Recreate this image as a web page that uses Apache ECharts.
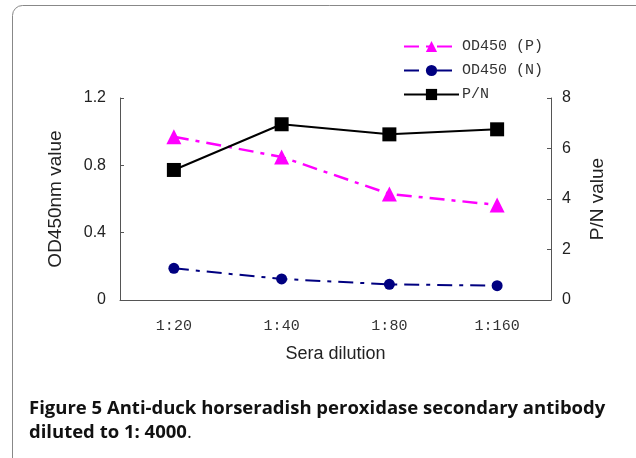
<!DOCTYPE html>
<html>
<head>
<meta charset="utf-8">
<script src="https://cdn.jsdelivr.net/npm/echarts@6/dist/echarts.min.js"></script>
<style>
  html, body { margin: 0; padding: 0; background: #fff; }
  #chart { width: 636px; height: 458px; }
</style>
</head>
<body>
<div id="chart"></div>
<script>
// values
const dilutions = ['1:20', '1:40', '1:80', '1:160']
const odPositive = [0.97, 0.85, 0.63, 0.565]
const odNegative = [0.188, 0.125, 0.093, 0.085]
const pnRatio = [5.15, 6.96, 6.56, 6.76]

const monoFont = '"Liberation Mono", "DejaVu Sans Mono", monospace'
const sansFont = '"Liberation Sans", Arial, sans-serif'
const captionFont = '"Open Sans", sans-serif'
const axisColor = '#555'

const chart = echarts.init(document.getElementById('chart'))

const option = {
  backgroundColor: '#fff',
  animation: false,
  grid: { left: 120, right: 85, top: 98, bottom: 158 },
  legend: {
    orient: 'vertical',
    left: 398,
    top: 34,
    itemWidth: 55,
    itemHeight: 14,
    itemGap: 9,
    textStyle: { fontFamily: monoFont, fontSize: 15, color: '#333', padding: [0, 0, 0, -2] },
    data: ['OD450 (P)', 'OD450 (N)', 'P/N']
  },
  xAxis: {
    type: 'category',
    data: dilutions,
    boundaryGap: true,
    name: 'Sera dilution',
    nameLocation: 'middle',
    nameGap: 45,
    nameTextStyle: { fontFamily: sansFont, fontSize: 18, color: '#222' },
    axisLine: { lineStyle: { color: axisColor, width: 1 } },
    axisTick: { inside: true, length: 4, lineStyle: { color: axisColor } },
    axisLabel: { fontFamily: monoFont, fontSize: 15, color: '#333', margin: 19 }
  },
  yAxis: [
    {
      type: 'value',
      min: 0,
      max: 1.2,
      interval: 0.4,
      name: 'OD450nm value',
      nameLocation: 'middle',
      nameRotate: 90,
      nameGap: 55,
      nameTextStyle: { fontFamily: sansFont, fontSize: 19, color: '#222' },
      axisLine: { show: true, lineStyle: { color: axisColor, width: 1 } },
      axisTick: { show: true, inside: true, length: 4, lineStyle: { color: axisColor } },
      axisLabel: { fontFamily: sansFont, fontSize: 16, color: '#222', margin: 14 },
      splitLine: { show: false }
    },
    {
      type: 'value',
      position: 'right',
      min: 0,
      max: 8,
      interval: 2,
      name: 'P/N value',
      nameLocation: 'middle',
      nameRotate: 90,
      nameGap: 37,
      nameTextStyle: { fontFamily: sansFont, fontSize: 19, color: '#222' },
      axisLine: { show: true, lineStyle: { color: axisColor, width: 1 } },
      axisTick: { show: true, inside: true, length: 4, lineStyle: { color: axisColor } },
      axisLabel: { fontFamily: sansFont, fontSize: 16, color: '#222', margin: 11 },
      splitLine: { show: false }
    }
  ],
  series: [
    {
      name: 'OD450 (P)',
      type: 'line',
      yAxisIndex: 0,
      data: odPositive,
      symbol: 'triangle',
      symbolSize: 15,
      itemStyle: { color: '#ff00ff' },
      lineStyle: { color: '#ff00ff', width: 2.5, type: [15, 7, 4, 7] }
    },
    {
      name: 'OD450 (N)',
      type: 'line',
      yAxisIndex: 0,
      data: odNegative,
      symbol: 'circle',
      symbolSize: 11,
      itemStyle: { color: '#000080' },
      lineStyle: { color: '#000080', width: 2, type: [15, 7, 4, 7] }
    },
    {
      name: 'P/N',
      type: 'line',
      yAxisIndex: 1,
      data: pnRatio,
      symbol: 'rect',
      symbolSize: 14,
      itemStyle: { color: '#000' },
      lineStyle: { color: '#000', width: 2 }
    }
  ],
  graphic: [
    {
      type: 'rect',
      shape: { x: 12.5, y: 5.5, width: 640, height: 480, r: 10 },
      style: { fill: 'none', stroke: '#888', lineWidth: 1 },
      silent: true
    },
    {
      type: 'text',
      left: 29,
      top: 397,
      style: {
        text: '{b|Figure 5 Anti-duck horseradish peroxidase secondary antibody}\n{b|diluted to 1: 4000}{n|.}',
        lineHeight: 24,
        rich: {
          b: { fontFamily: captionFont, fontWeight: 'bold', fontSize: 18.5, fill: '#111', lineHeight: 24 },
          n: { fontFamily: captionFont, fontWeight: 'normal', fontSize: 18.5, fill: '#111', lineHeight: 24 }
        }
      }
    }
  ]
}

chart.setOption(option)
</script>
</body>
</html>
